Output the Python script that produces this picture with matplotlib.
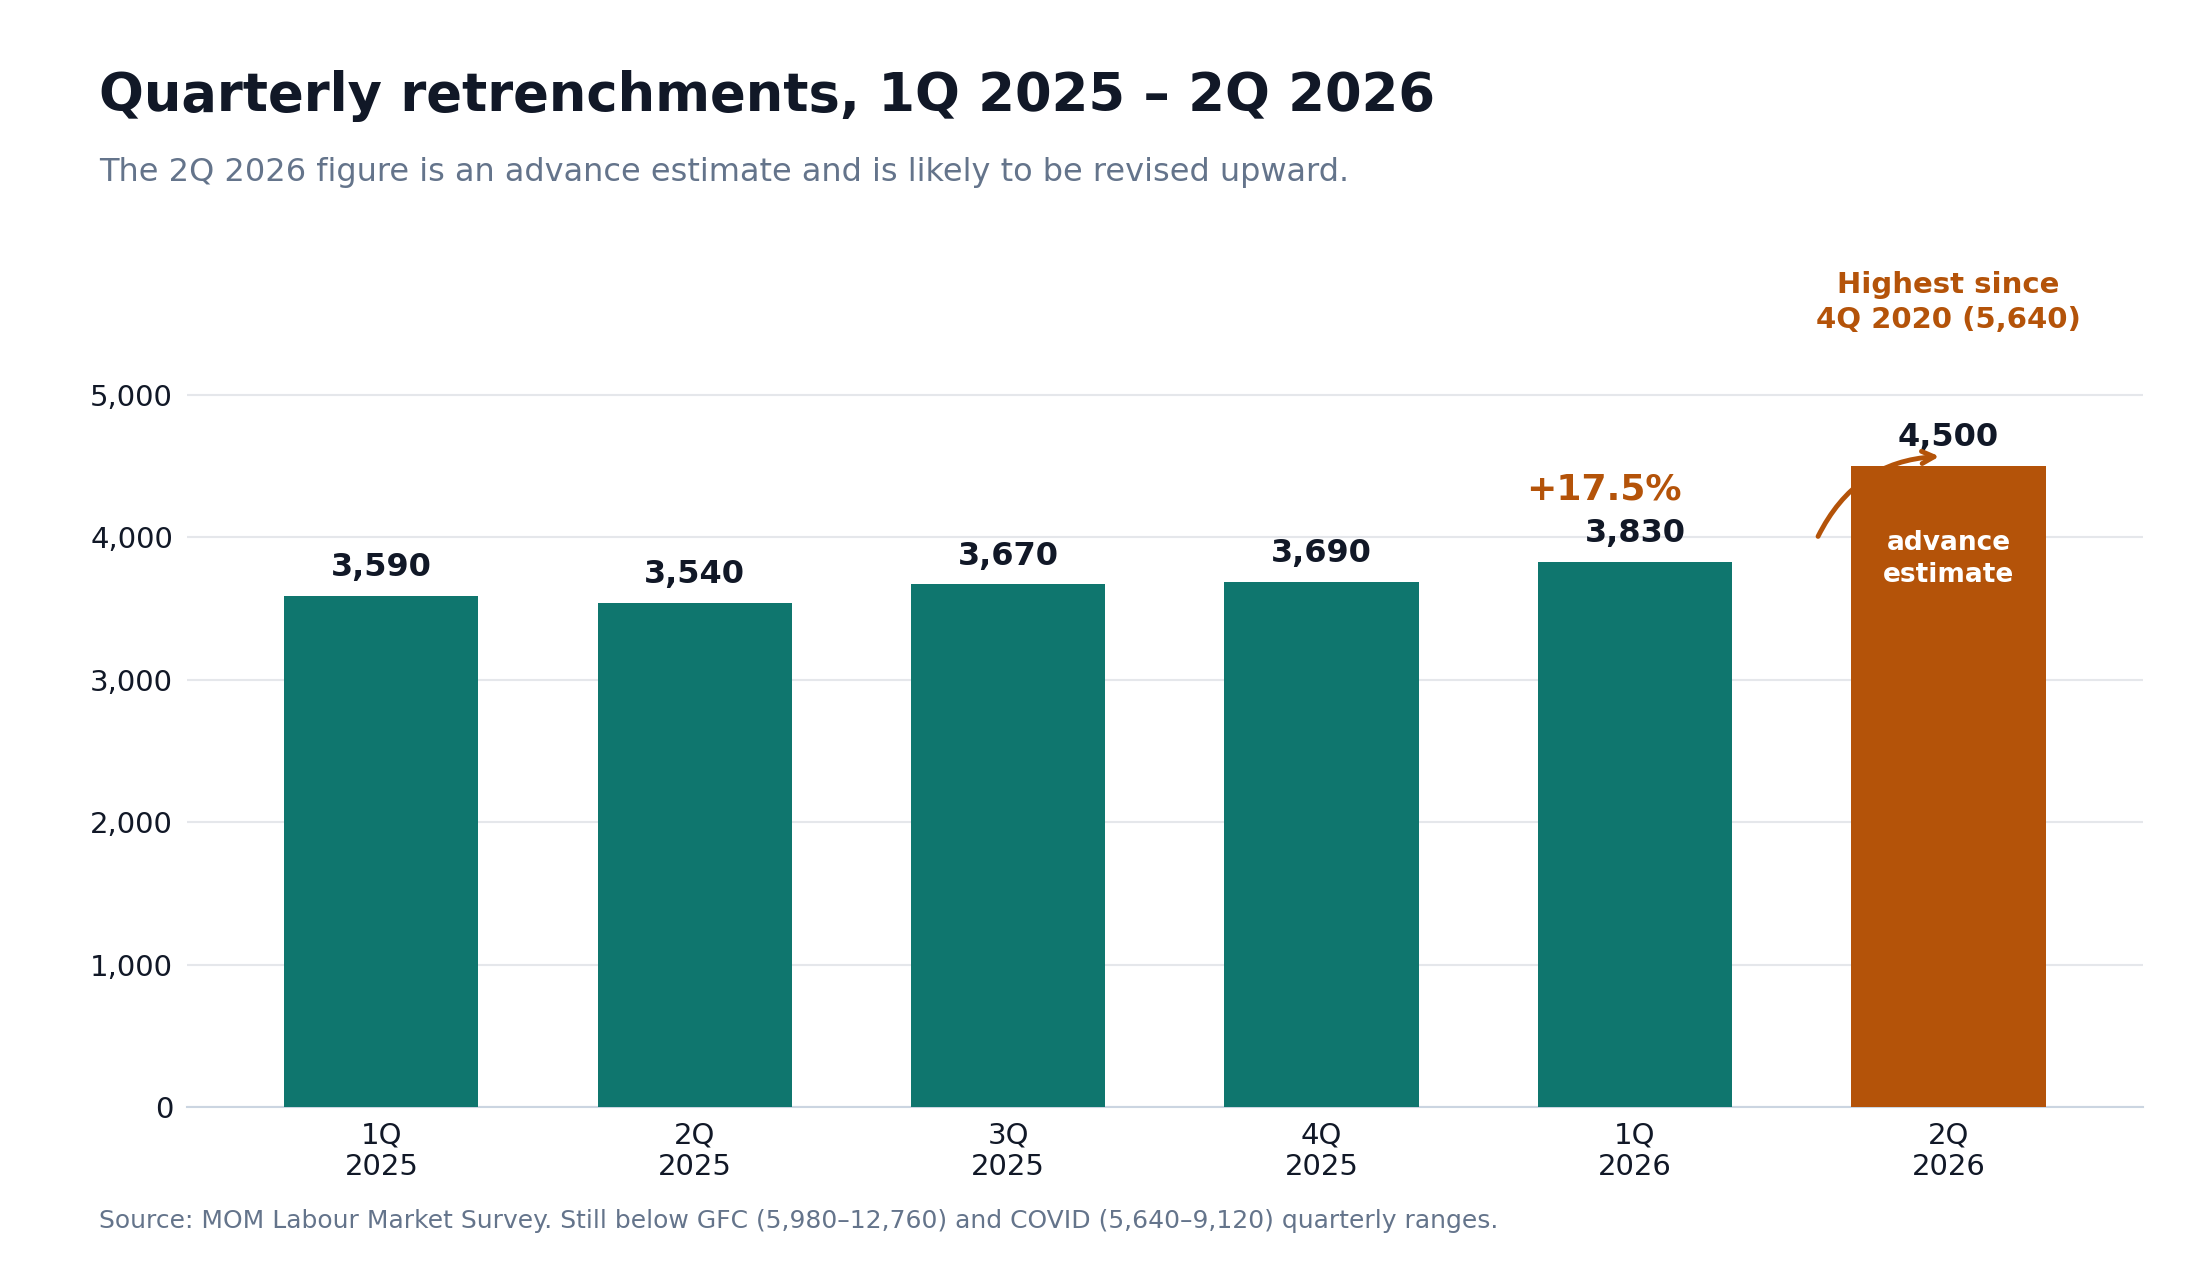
import matplotlib.pyplot as plt

plt.rcParams['font.family'] = ['DejaVu Sans']

quarters = ['1Q\n2025', '2Q\n2025', '3Q\n2025', '4Q\n2025', '1Q\n2026', '2Q\n2026']
values = [3590, 3540, 3670, 3690, 3830, 4500]
value_labels = ['3,590', '3,540', '3,670', '3,690', '3,830', '4,500']

teal = '#0F766E'
orange = '#B45309'
dark = '#111827'
grey = '#64748B'

fig = plt.figure(figsize=(22, 12.8), dpi=100)
ax = fig.add_axes([0.085, 0.135, 0.889, 0.612])

colors = [teal] * 5 + [orange]
x = range(len(values))
ax.bar(x, values, width=0.62, color=colors, zorder=3)
ax.set_xlim(-0.62, 5.62)
ax.set_ylim(0, 5500)
ax.set_yticks(range(0, 5001, 1000))
ax.set_yticklabels([f'{v:,}' for v in range(0, 5001, 1000)])
ax.set_xticks(list(x))
ax.set_xticklabels(quarters)
ax.tick_params(length=0, labelsize=21, colors=dark, pad=10)
ax.grid(axis='y', color='#E5E7EB', lw=1.5, zorder=0)
for s in ['top', 'right', 'left']:
    ax.spines[s].set_visible(False)
ax.spines['bottom'].set_color('#CBD5E1')
ax.spines['bottom'].set_linewidth(1.5)

for i, (v, lab) in enumerate(zip(values, value_labels)):
    ax.text(i, v + 90, lab, ha='center', va='bottom', fontsize=23,
            fontweight='bold', color=dark)

ax.text(5, 3850, 'advance\nestimate', ha='center', va='center', fontsize=19,
        fontweight='bold', color='white', linespacing=1.3)
ax.text(3.9, 4340, '+17.5%', ha='center', va='center', fontsize=26,
        fontweight='bold', color=orange)
ax.annotate('', xy=(4.98, 4570), xytext=(4.58, 3990),
            arrowprops=dict(arrowstyle='->', color=orange, lw=3.5,
                            mutation_scale=22,
                            connectionstyle='arc3,rad=-0.3'))
ax.text(5, 5650, 'Highest since\n4Q 2020 (5,640)', ha='center', va='center',
        fontsize=21, fontweight='bold', color=orange, linespacing=1.3)

fig.text(0.045, 0.925, 'Quarterly retrenchments, 1Q 2025 – 2Q 2026',
         fontsize=38, fontweight='bold', color=dark, va='center')
fig.text(0.045, 0.865, 'The 2Q 2026 figure is an advance estimate and is likely to be revised upward.',
         fontsize=23, color=grey, va='center')
fig.text(0.045, 0.046, 'Source: MOM Labour Market Survey. Still below GFC (5,980–12,760) and COVID (5,640–9,120) quarterly ranges.',
         fontsize=18, color=grey, va='center')

fig.savefig('out.png', dpi=100, facecolor='white')
